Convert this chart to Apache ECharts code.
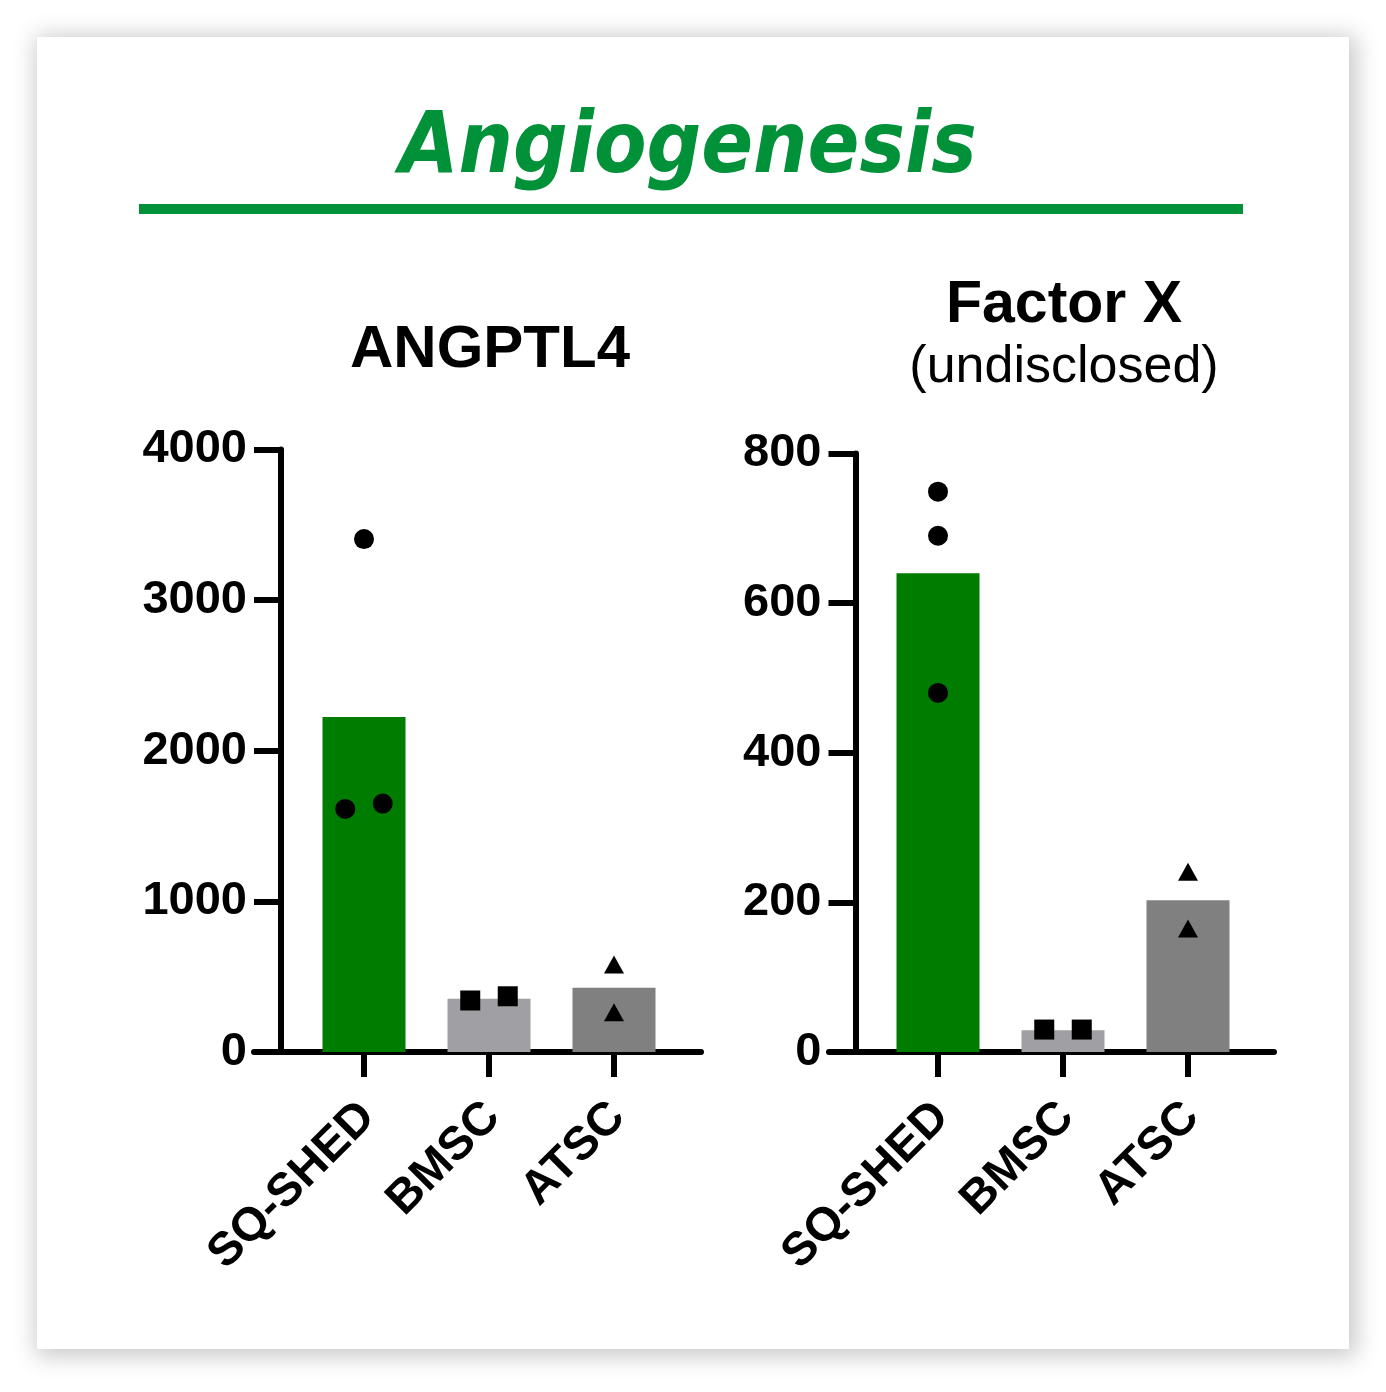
<!DOCTYPE html>
<html>
<head>
<meta charset="utf-8">
<script src="https://cdn.jsdelivr.net/npm/echarts@6/dist/echarts.min.js"></script>
<style>
  html, body { margin: 0; padding: 0; background: #ffffff; }
  #card { position: absolute; left: 37px; top: 37px; width: 1312px; height: 1312px; background: #fff;
          box-shadow: 3px 3px 22px 4px rgba(0,0,0,0.22); }
  #chart { position: absolute; left: 0; top: 0; width: 1386px; height: 1392px; }
</style>
</head>
<body>
<div id="card"></div>
<div id="chart"></div>
<script>
// ---- data ----
const categories = ['SQ-SHED', 'BMSC', 'ATSC'];
const mainTitle = 'Angiogenesis';
const leftTitle = 'ANGPTL4';
const rightTitle = 'Factor X';
const rightSubtitle = '(undisclosed)';

// ANGPTL4
const angMeans = [2224, 353, 426];
const angSQ = [3405, 1614, 1649];
const angBMSC = [342, 370];
const angATSC = [581, 264];
const angTicks = [0, 1000, 2000, 3000, 4000];

// Factor X
const fxMeans = [640, 29, 203];
const fxSQ = [749, 690, 480];
const fxBMSC = [30, 30];
const fxATSC = [241, 165];
const fxTicks = [0, 200, 400, 600, 800];

// horizontal jitter of replicate points within a category (fraction of category spacing)
const jitLeftSQ = [0, -0.15, 0.15];
const jitRightSQ = [0, 0, 0];
const jitBMSC = [-0.15, 0.15];
const jitATSC = [0, 0];

const barColors = ['#007c00', '#a0a0a4', '#808080'];
const symbols = ['circle', 'rect', 'triangle'];

const F = "'Liberation Sans', Arial, sans-serif";

function pts(catIndex, values, jitter) {
  return values.map((v, i) => [catIndex + jitter[i], v]);
}

function makeAxes(gridIndex, ticks, xmin, xmax, yOffset) {
  const xAxis = {
    type: 'value', gridIndex: gridIndex, min: xmin, max: xmax,
    splitLine: { show: false },
    axisLine: { show: true, onZero: false, lineStyle: { color: '#000', width: 6 } },
    axisTick: { show: true, customValues: [0, 1, 2], length: 25, lineStyle: { color: '#000', width: 6 } },
    axisLabel: {
      show: true, customValues: [0, 1, 2], rotate: 45, margin: 54,
      align: 'right', verticalAlign: 'top', lineHeight: 11,
      formatter: v => categories[Math.round(v)],
      color: '#000', fontFamily: F, fontWeight: 'bold', fontSize: 47
    }
  };
  const yAxis = {
    type: 'value', gridIndex: gridIndex, min: ticks[0], max: ticks[ticks.length - 1],
    interval: ticks[1] - ticks[0], offset: yOffset,
    splitLine: { show: false },
    axisLine: { show: true, onZero: false, lineStyle: { color: '#000', width: 6 } },
    axisTick: { show: true, length: 27, lineStyle: { color: '#000', width: 6 } },
    axisLabel: { margin: 34, color: '#000', fontFamily: F, fontWeight: 'bold', fontSize: 47,
                 formatter: v => String(v) }
  };
  return [xAxis, yAxis];
}

const [x0, y0] = makeAxes(0, angTicks, (254 - 364) / 125, (701 - 364) / 125, -27);
const [x1, y1] = makeAxes(1, fxTicks, (829 - 938) / 125, (1274 - 938) / 125, -26.5);

function barSeries(idx, means) {
  return {
    type: 'bar', xAxisIndex: idx, yAxisIndex: idx, barWidth: 83, z: 2,
    data: means.map((v, i) => ({ value: [i, v], itemStyle: { color: barColors[i] } })),
    silent: true
  };
}
function scatterSeries(idx, data, sym, size) {
  return {
    type: 'scatter', xAxisIndex: idx, yAxisIndex: idx, symbol: sym, symbolSize: size, z: 5,
    itemStyle: { color: '#000', opacity: 1 }, data: data, silent: true
  };
}

const option = {
  animation: false,
  backgroundColor: 'transparent',
  grid: [
    { left: 254, top: 449.5, width: 447, height: 602.5, containLabel: false, outerBoundsMode: 'none' },
    { left: 829, top: 453.5, width: 445, height: 598.5, containLabel: false, outerBoundsMode: 'none' }
  ],
  xAxis: [x0, x1],
  yAxis: [y0, y1],
  series: [
    barSeries(0, angMeans),
    scatterSeries(0, pts(0, angSQ, jitLeftSQ), symbols[0], 20),
    scatterSeries(0, pts(1, angBMSC, jitBMSC), symbols[1], 20),
    scatterSeries(0, pts(2, angATSC, jitATSC), symbols[2], [20, 18]),
    barSeries(1, fxMeans),
    scatterSeries(1, pts(0, fxSQ, jitRightSQ), symbols[0], 20),
    scatterSeries(1, pts(1, fxBMSC, jitBMSC), symbols[1], 20),
    scatterSeries(1, pts(2, fxATSC, jitATSC), symbols[2], [20, 18])
  ],
  graphic: [
    { type: 'text', x: 688, y: 150, style: { text: mainTitle, fill: '#009139',
        font: "italic bold 85px 'DejaVu Sans Condensed', 'DejaVu Sans', sans-serif",
        align: 'center', verticalAlign: 'middle' } },
    { type: 'rect', shape: { x: 139, y: 204, width: 1104, height: 10 }, style: { fill: '#009139' } },
    { type: 'text', x: 490, y: 350, style: { text: leftTitle, fill: '#000',
        font: "bold 60px 'Liberation Sans', Arial, sans-serif", align: 'center', verticalAlign: 'middle' } },
    { type: 'text', x: 1064, y: 306, style: { text: rightTitle, fill: '#000',
        font: "bold 59px 'Liberation Sans', Arial, sans-serif", align: 'center', verticalAlign: 'middle' } },
    { type: 'text', x: 1064, y: 368, style: { text: rightSubtitle, fill: '#000',
        font: "52px 'Liberation Sans', Arial, sans-serif", align: 'center', verticalAlign: 'middle' } }
  ]
};

const chart = echarts.init(document.getElementById('chart'), null, { renderer: 'canvas', devicePixelRatio: 1 });
chart.setOption(option);
</script>
</body>
</html>
